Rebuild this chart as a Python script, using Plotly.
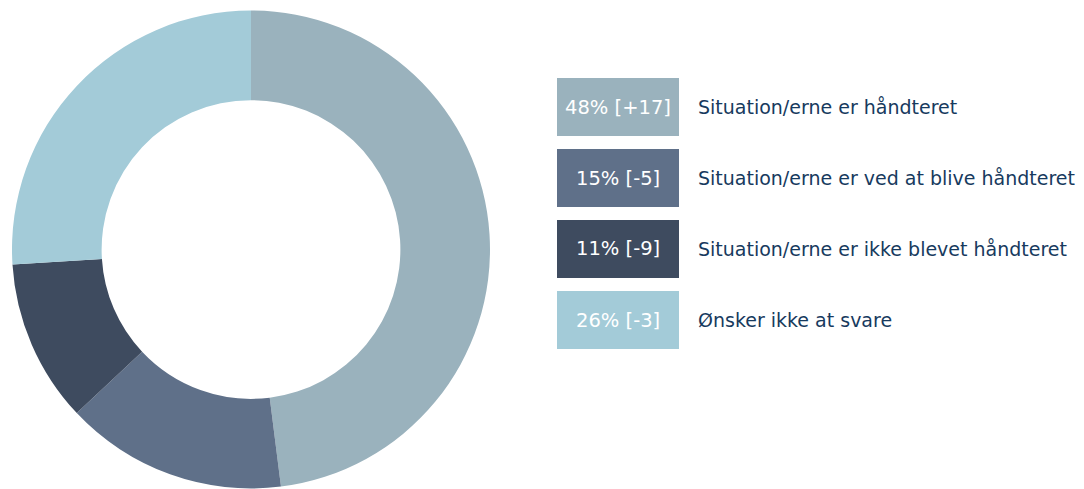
import plotly.graph_objects as go

# Survey response shares and change since last measurement
labels = [
    "Situation/erne er håndteret",
    "Situation/erne er ved at blive håndteret",
    "Situation/erne er ikke blevet håndteret",
    "Ønsker ikke at svare",
]
shares = [48, 15, 11, 26]
changes = [17, -5, -9, -3]
colors = ["#9AB2BD", "#5F7089", "#3E4B5F", "#A3CBD8"]

W, H = 1084, 489

fig = go.Figure()
fig.add_trace(go.Pie(
    labels=labels,
    values=shares,
    hole=0.625,
    sort=False,
    direction="clockwise",
    rotation=0,
    marker=dict(colors=colors, line=dict(width=0)),
    textinfo="none",
    showlegend=False,
    domain=dict(x=[11 / W, 491 / W], y=[0.5 / H, 478.5 / H]),
))

# Legend rows: coloured value box + category text
box_x0, box_x1 = 557, 679
row_tops = [78, 149, 220, 291]
box_h = 58
shapes = []
annotations = []
for i, (lab, s, c, col) in enumerate(zip(labels, shares, changes, colors)):
    y0 = row_tops[i]
    y1 = y0 + box_h
    shapes.append(dict(
        type="rect", xref="paper", yref="paper",
        x0=box_x0 / W, x1=box_x1 / W,
        y0=1 - y1 / H, y1=1 - y0 / H,
        fillcolor=col, line=dict(width=0), layer="below",
    ))
    delta = f"+{c}" if c > 0 else f"{c}"
    annotations.append(dict(
        xref="paper", yref="paper",
        x=(box_x0 + box_x1) / 2 / W, y=1 - (y0 + y1) / 2 / H,
        text=f"{s}% [{delta}]", showarrow=False,
        xanchor="center", yanchor="middle",
        font=dict(family="DejaVu Sans", size=19.5, color="white"),
    ))
    annotations.append(dict(
        xref="paper", yref="paper",
        x=696 / W, y=1 - (y0 + y1) / 2 / H,
        text=lab, showarrow=False,
        xanchor="left", yanchor="middle",
        font=dict(family="DejaVu Sans", size=19, color="#173A5E"),
    ))

fig.update_layout(
    width=W, height=H,
    margin=dict(l=0, r=0, t=0, b=0),
    paper_bgcolor="white",
    plot_bgcolor="white",
    shapes=shapes,
    annotations=annotations,
)

fig.write_html("out.html")
